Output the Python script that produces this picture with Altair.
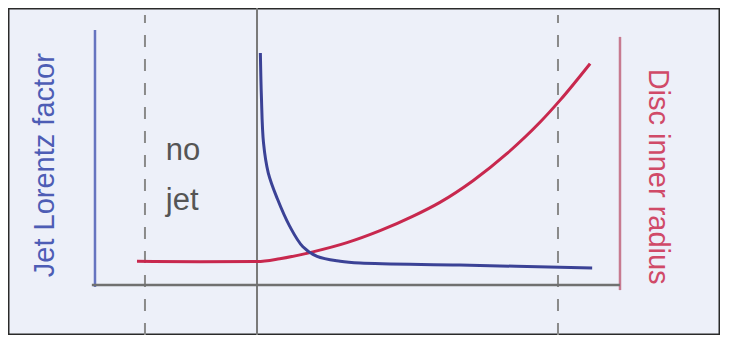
import altair as alt
import pandas as pd

# Schematic units: x axis 0..10, y axis 0..10
jet_x = [3.15, 3.17, 3.21, 3.30, 3.47, 3.71, 3.96, 4.23, 4.67, 5.05, 6.95, 9.47]
jet_y = [9.10, 7.37, 5.57, 4.40, 3.40, 2.30, 1.50, 1.12, 0.93, 0.86, 0.78, 0.67]

disc_x = [0.80, 2.00, 3.09, 3.52, 4.15, 4.80, 5.43, 6.06, 6.57, 7.20, 7.85, 8.48, 8.86, 9.43]
disc_y = [0.93, 0.91, 0.92, 1.03, 1.30, 1.66, 2.13, 2.70, 3.24, 4.09, 5.16, 6.39, 7.25, 8.68]

X_DOM = [-1.657, 11.905]
Y_DOM = [-1.961, 10.863]

# guide lines (schematic units)
left_axis = {"x": [0.0], "y": [-0.08], "y2": [10.0]}
right_axis = {"x": [10.0], "y": [-0.2], "y2": [9.73]}
bottom_axis = {"y": [0.0], "x": [-0.06], "x2": [10.0]}
separator = {"x": [3.086], "y": [Y_DOM[0]], "y2": [Y_DOM[1]]}
dashed = {"x": [0.952, 8.819], "y": [Y_DOM[0], Y_DOM[0]], "y2": [10.59, 10.59]}

labels_text = ["no", "jet"]
labels_x = [1.35, 1.35]
labels_y = [4.90, 2.94]

xs = alt.Scale(domain=X_DOM, nice=False, zero=False)
ys = alt.Scale(domain=Y_DOM, nice=False, zero=False)


def vrule(d, color, width, dash=None):
    kw = dict(color=color, strokeWidth=width)
    if dash:
        kw["strokeDash"] = dash
    return alt.Chart(pd.DataFrame(d)).mark_rule(**kw).encode(
        x=alt.X("x:Q", scale=xs, axis=None),
        y=alt.Y("y:Q", scale=ys, axis=None),
        y2="y2:Q",
    )


def hrule(d, color, width):
    return alt.Chart(pd.DataFrame(d)).mark_rule(color=color, strokeWidth=width).encode(
        x=alt.X("x:Q", scale=xs, axis=None),
        x2="x2:Q",
        y=alt.Y("y:Q", scale=ys, axis=None),
    )


sep = vrule(separator, "#7a7a7a", 2)
dash_layer = vrule(dashed, "#8a8a8a", 2, [12, 12])
lax = vrule(left_axis, "#6674c0", 2.5)
rax = vrule(right_axis, "#c77a90", 2.5)
bax = hrule(bottom_axis, "#707070", 2.5)

jet = alt.Chart(pd.DataFrame({"x": jet_x, "y": jet_y})).mark_line(
    color="#3b4296", strokeWidth=3, interpolate="catmull-rom"
).encode(
    x=alt.X("x:Q", scale=xs, axis=None),
    y=alt.Y("y:Q", scale=ys, axis=None),
)

disc = alt.Chart(pd.DataFrame({"x": disc_x, "y": disc_y})).mark_line(
    color="#c8284e", strokeWidth=3, interpolate="monotone"
).encode(
    x=alt.X("x:Q", scale=xs, axis=None),
    y=alt.Y("y:Q", scale=ys, axis=None),
)

nojet = alt.Chart(pd.DataFrame({"t": labels_text, "x": labels_x, "y": labels_y})).mark_text(
    align="left", baseline="alphabetic", font="Liberation Sans", fontSize=31, color="#555555"
).encode(
    x=alt.X("x:Q", scale=xs, axis=None),
    y=alt.Y("y:Q", scale=ys, axis=None),
    text="t:N",
)

ltitle = alt.Chart(pd.DataFrame({"t": ["Jet Lorentz factor"], "x": [-0.95], "y": [4.70]})).mark_text(
    align="center", baseline="middle", angle=270, font="Liberation Sans", fontSize=29, color="#4d5db5"
).encode(
    x=alt.X("x:Q", scale=xs, axis=None),
    y=alt.Y("y:Q", scale=ys, axis=None),
    text="t:N",
)

rtitle = alt.Chart(pd.DataFrame({"t": ["Disc inner radius"], "x": [10.72], "y": [4.25]})).mark_text(
    align="center", baseline="middle", angle=90, font="Liberation Sans", fontSize=29, color="#d04a68"
).encode(
    x=alt.X("x:Q", scale=xs, axis=None),
    y=alt.Y("y:Q", scale=ys, axis=None),
    text="t:N",
)

chart = alt.layer(
    sep, dash_layer, lax, rax, bax, disc, jet, nojet, ltitle, rtitle
).properties(
    width=712, height=327, padding=0, autosize=alt.AutoSizeParams(type="none"),
    background="#edf0f9",
).configure_view(stroke="#2a2a2a", strokeWidth=3, fill="#edf0f9")

chart.save("out.html", embed_options={"renderer": "svg", "actions": False})
